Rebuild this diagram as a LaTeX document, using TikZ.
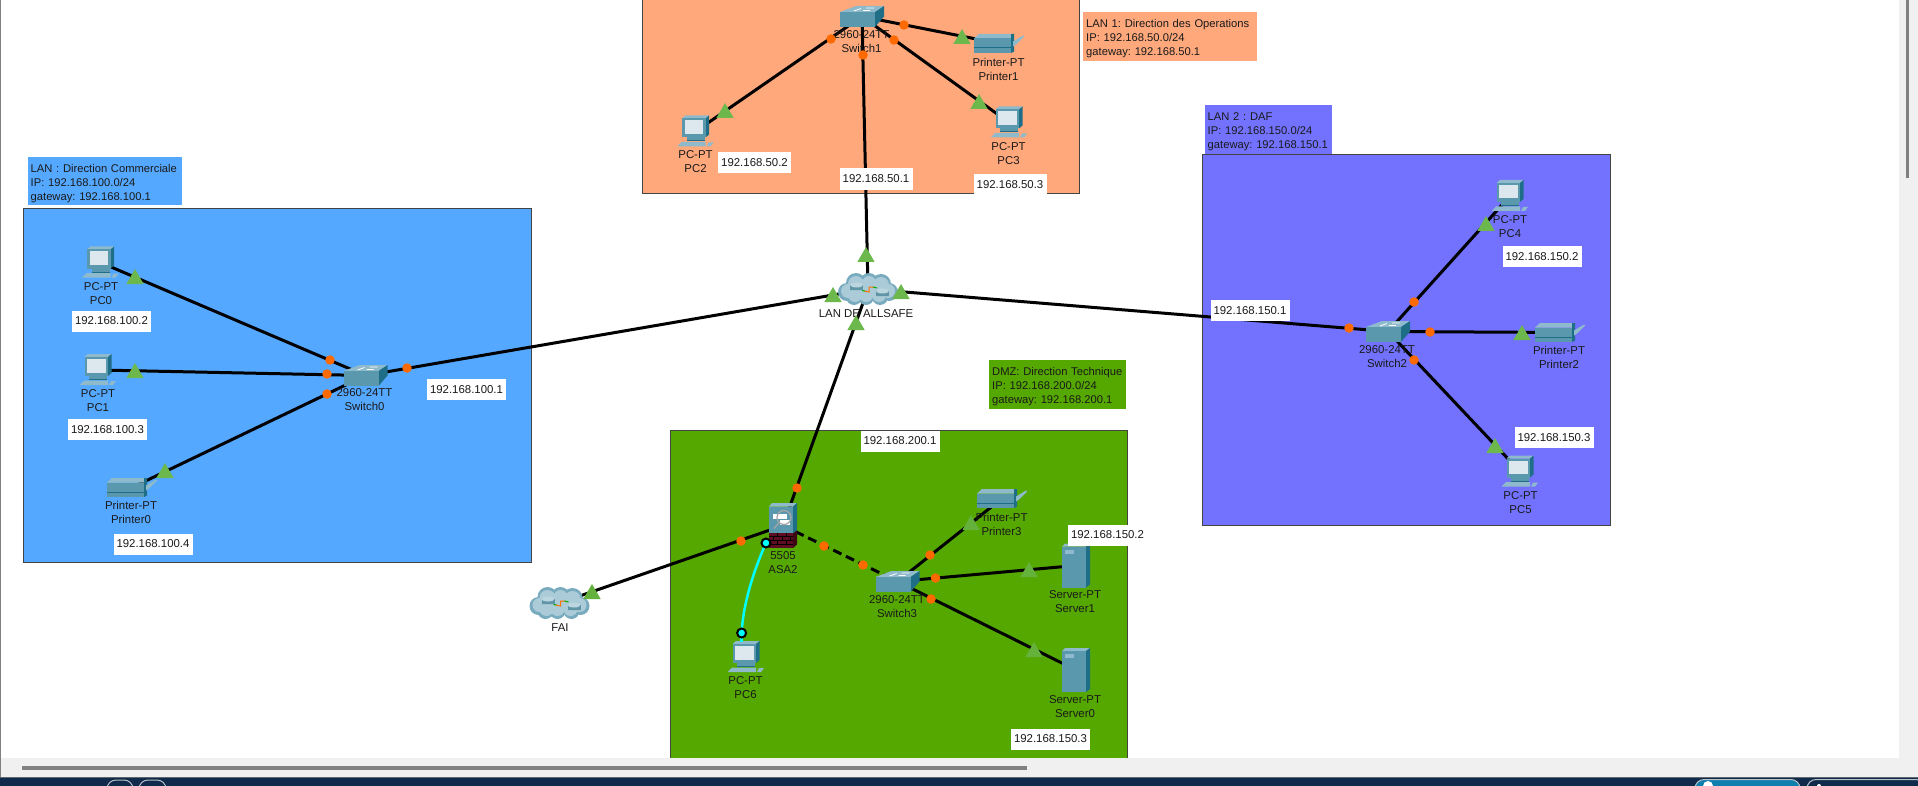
\documentclass[tikz,border=0pt]{standalone}
\usepackage{fontspec}
\setmainfont{Liberation Sans}
\frenchspacing
\usetikzlibrary{shapes.geometric}
\pgfdeclarelayer{zones}
\pgfdeclarelayer{links}
\pgfsetlayers{zones,links,main}
\definecolor{lanone}{HTML}{FFA87C}
\definecolor{lantwo}{HTML}{7272FF}
\definecolor{lanzero}{HTML}{55A8FF}
\definecolor{dmz}{HTML}{55A800}
\definecolor{zoneline}{HTML}{444444}
\definecolor{tealfront}{HTML}{5A98AE}
\definecolor{teallight}{HTML}{8FBACB}
\definecolor{tealdark}{HTML}{1F6E88}
\definecolor{screenc}{HTML}{DCE8EE}
\definecolor{brick}{HTML}{5E0E22}
\definecolor{brickdark}{HTML}{3C0814}
\definecolor{dotc}{HTML}{FF6A00}
\definecolor{tric}{HTML}{6DB84C}
\definecolor{tridim}{HTML}{64B23C}
\definecolor{cablecyan}{HTML}{00FFFF}
\definecolor{panelc}{HTML}{F0F0F0}
\definecolor{navy}{HTML}{0F2A4A}
\definecolor{pillblue}{HTML}{0F7FAE}
\definecolor{textc}{HTML}{1A1A1A}
\tikzset{
  zone/.style={draw=zoneline,line width=1pt},
  zonetag/.style={anchor=north west,inner xsep=3pt,inner ysep=0pt,align=left,font=\fontsize{11.2}{14}\selectfont,text=textc},
  devbox/.style={inner sep=0pt,minimum width=36pt,minimum height=30pt},
  devtext/.style={inner sep=0pt,align=center,font=\fontsize{11.4}{14}\selectfont,text=textc},
  iplabel/.style={fill=white,inner sep=0pt,minimum height=21pt,minimum width=79pt,font=\fontsize{11.4}{14}\selectfont,text=textc},
  link/.style={draw=black,line width=3pt},
  dashlink/.style={draw=black,line width=3pt,dash pattern=on 9pt off 5pt},
  cyanlink/.style={draw=cablecyan,line width=2.5pt},
  ring/.style={circle,draw=black,fill=cablecyan,line width=2pt,minimum size=9pt,inner sep=0pt},
  updot/.style={circle,fill=dotc,minimum size=9.5pt,inner sep=0pt},
  uptri/.style={regular polygon,regular polygon sides=3,fill=tric,minimum size=20pt,inner sep=0pt,yshift=-2pt},
  uptridim/.style={uptri,fill=tridim},
  pill/.style={draw=white!70!navy,line width=1pt,rounded corners=9pt},
  pcicon/.pic={
    \fill[teallight] (-13.5,-13)--(-10,-16)--(13.5,-16)--(10,-13)--cycle;
    \fill[tealdark] (10,-13)--(13.5,-16)--(13.5,3)--(10,6)--cycle;
    \fill[tealfront] (-13.5,-13) rectangle (10,6);
    \fill[screenc] (-11,-11) rectangle (7.5,2.5);
    \fill[tealfront] (-9,6) rectangle (9,9);
    \fill[tealdark] (-9,9) rectangle (9,10);
    \fill[teallight] (-18.5,15)--(-14,10.5)--(10,10.5)--(10,15)--cycle;
    \fill[teallight] (11,15)--(13,11)--(18,11)--(15,15)--cycle;
  },
  switchicon/.pic={
    \fill[teallight] (-22,-4.5)--(-6,-10.5)--(22,-10.5)--(13,-4.5)--cycle;
    \fill[tealdark] (13,-4.5)--(22,-10.5)--(22,0)--(13,10.5)--cycle;
    \fill[tealfront] (-22,-4.5) rectangle (13,10.5);
    \draw[white,line width=.8pt] (-8,-5.5)--(-1,-8) (1,-6)--(8,-6) (4,-8.5)--(12,-8.5);
  },
  printericon/.pic={
    \fill[teallight] (-25,-5)--(-20,-9.5)--(12,-9.5)--(12,-5)--cycle;
    \fill[tealfront] (-25,-5) rectangle (12,9.5);
    \fill[tealdark] (-25,4) rectangle (12,5);
    \fill[tealdark] (12,-9.5)--(15,-9.5)--(15,8)--(12,9.5)--cycle;
    \fill[teallight] (14,-2)--(24,-8)--(25,-7)--(17,1)--(14,3)--cycle;
  },
  servericon/.pic={
    \fill[teallight] (-14,-19)--(-11,-22)--(14,-22)--(10,-19)--cycle;
    \fill[tealdark] (10,-19)--(14,-22)--(14,19)--(10,22)--cycle;
    \fill[tealfront] (-14,-19) rectangle (10,22);
    \fill[teallight] (-11,-16) rectangle (-2,-12);
  },
  asaicon/.pic={
    \fill[teallight] (-14,-19)--(-11,-22.5)--(14,-22.5)--(10,-19)--cycle;
    \fill[tealdark] (10,-19)--(14,-22.5)--(14,5)--(10,8)--cycle;
    \fill[brickdark] (10,8)--(14,5)--(14,19)--(10,22.5)--cycle;
    \fill[tealfront] (-14,-19) rectangle (10,7);
    \fill[brick] (-14,7) rectangle (10,22.5);
    \draw[black,line width=.6pt] (-14,11)--(10,11) (-14,15)--(10,15) (-14,19)--(10,19) (-6,7)--(-6,11) (3,7)--(3,11) (-10,11)--(-10,15) (-1,11)--(-1,15) (7,11)--(7,15) (-6,15)--(-6,19) (3,15)--(3,19);
    \fill[white] (-10,-12) rectangle (4,-7);
    \fill[white] (-3,-6) rectangle (7,-1);
    \draw[gray!70!white,line width=1.3pt] (1,-8) circle[radius=7];
    \draw[gray!70!white,line width=1.3pt] (-4,-3)--(-9,3);
  },
  cloudicon/.pic={
    \fill[teallight!80!tealdark] (-21,3) circle[radius=9] (-12,-6) circle[radius=10] (1,-7) circle[radius=9] (13,-5) circle[radius=10] (21,3) circle[radius=9] (12,8) circle[radius=8] (-2,8) circle[radius=8] (-14,8) circle[radius=8] (0,0) circle[radius=12];
    \fill[teallight!75!white] (-20,2) circle[radius=7] (-12,-5) circle[radius=8] (1,-6) circle[radius=7] (13,-4) circle[radius=8] (20,2) circle[radius=7] (11,6) circle[radius=7] (-2,6) circle[radius=7] (-13,6) circle[radius=7] (0,0) circle[radius=10];
    \fill[tealfront!85!gray] (-18,-4) rectangle (-5,1);
    \fill[tealfront!85!gray] (-18,1) arc[start angle=180,end angle=360,x radius=6.5,y radius=2.5];
    \fill[teallight!60!white] (-11.5,-4) ellipse[x radius=6.5,y radius=2.5];
    \fill[tealfront!85!gray] (8,2) rectangle (21,7);
    \fill[tealfront!85!gray] (8,7) arc[start angle=180,end angle=360,x radius=6.5,y radius=2.5];
    \fill[teallight!60!white] (14.5,2) ellipse[x radius=6.5,y radius=2.5];
    \draw[orange!90!red,line width=1pt] (-4,2)--(1,3)--(1,-2)--(6,-2);
    \draw[green!70!black,line width=1pt] (-6,1.5)--(-3,2) (5,-2)--(9,-1);
  },
}
\newcommand{\dev}[5]{%
  \node[devbox] (#1) at (#3) {};
  \pic at (#1.center) {#2};
  \node[devtext] (#1txt) at (#5) {#4};
}
\hbadness=10000
\hfuzz=50pt
\begin{document}
\begin{tikzpicture}[x=1pt,y=-1pt]
\useasboundingbox (0,0) rectangle (1918,786);
\begin{pgfonlayer}{zones}
  \fill[white] (0,0) rectangle (1918,786);
  \draw[zone,fill=lanzero] (23,209) rectangle (531,562);
  \draw[zone,fill=lanone] (642,-3) rectangle (1079,194);
  \draw[zone,fill=lantwo] (1202,155) rectangle (1610,525);
  \draw[zone,fill=dmz] (670,430) rectangle (1127,770);
\end{pgfonlayer}
\node[zonetag,fill=lanzero,minimum width=154.5pt,minimum height=48pt,text width=148.5pt] (tag0) at (27.5,157) {\rule{0pt}{12pt}\mbox{LAN : Direction Commerciale}\\\mbox{IP: 192.168.100.0/24}\\\mbox{gateway: 192.168.100.1}};
\node[zonetag,fill=lanone,minimum width=174pt,minimum height=49pt,text width=168pt] (tag1) at (1083,12) {\rule{0pt}{12pt}\mbox{LAN 1: Direction des Operations}\\\mbox{IP: 192.168.50.0/24}\\\mbox{gateway: 192.168.50.1}};
\node[zonetag,fill=lantwo,minimum width=127.5pt,minimum height=49pt,text width=121.5pt] (tag2) at (1204.5,105) {\rule{0pt}{12pt}\mbox{LAN 2 : DAF}\\\mbox{IP: 192.168.150.0/24}\\\mbox{gateway: 192.168.150.1}};
\node[zonetag,fill=dmz,minimum width=137pt,minimum height=49pt,text width=131pt] (tag3) at (989,360) {\rule{0pt}{12pt}\mbox{DMZ: Direction Technique}\\\mbox{IP: 192.168.200.0/24}\\\mbox{gateway: 192.168.200.1}};
% devices
\dev{switch1}{switchicon}{862,16.5}{2960-24TT\\Switch1}{861.5,42}
\dev{printer1}{printericon}{999,43.5}{Printer-PT\\Printer1}{998.5,69}
\dev{pc2}{pcicon}{695.5,131.5}{PC-PT\\PC2}{695.5,162}
\dev{pc3}{pcicon}{1009,122.5}{PC-PT\\PC3}{1008.5,154}
\dev{cloudlan}{cloudicon}{868,289}{LAN DE ALLSAFE}{866,314}
\dev{pc0}{pcicon}{100.5,262.5}{PC-PT\\PC0}{101,294}
\dev{pc1}{pcicon}{98,370}{PC-PT\\PC1}{98,401}
\dev{printer0}{printericon}{132,487.5}{Printer-PT\\Printer0}{131,512}
\dev{switch0}{switchicon}{365.5,375.5}{2960-24TT\\Switch0}{364.5,400}
\dev{asa2}{asaicon}{783,525.5}{5505\\ASA2}{783,563}
\dev{fai}{cloudicon}{559.5,603}{FAI}{560,628}
\dev{pc6}{pcicon}{746,657}{PC-PT\\PC6}{745.5,688}
\dev{switch3}{switchicon}{897.5,581.5}{2960-24TT\\Switch3}{897,607}
\dev{printer3}{printericon}{1002,498.5}{Printer-PT\\Printer3}{1001.5,524}
\dev{server1}{servericon}{1076,565.5}{Server-PT\\Server1}{1075,602}
\dev{server0}{servericon}{1076,670}{Server-PT\\Server0}{1075,707}
\dev{pc4}{pcicon}{1510,196}{PC-PT\\PC4}{1510,227}
\dev{switch2}{switchicon}{1388,331.5}{2960-24TT\\Switch2}{1387,357}
\dev{printer2}{printericon}{1560,332.5}{Printer-PT\\Printer2}{1559,357}
\dev{pc5}{pcicon}{1520,471.5}{PC-PT\\PC5}{1520.5,503}
% cables, below the devices
\begin{pgfonlayer}{links}
  \draw[link] (switch1.center)--(printer1.center);
  \draw[link] (switch1.center)--(pc2.center);
  \draw[link] (switch1.center)--(pc3.center);
  \draw[link] (switch1.center)--(cloudlan.center);
  \draw[link] (cloudlan.center)--(switch0.center);
  \draw[link] (cloudlan.center)--(switch2.center);
  \draw[link] (cloudlan.center)--(asa2.center);
  \draw[link] (switch0.center)--(pc0.center);
  \draw[link] (switch0.center)--(pc1.center);
  \draw[link] (switch0.center)--(printer0.center);
  \draw[link] (asa2.center)--(fai.center);
  \draw[dashlink] (asa2.center)--(switch3.center);
  \draw[link] (switch3.center)--(printer3.center);
  \draw[link] (switch3.center)--(server1.center);
  \draw[link] (switch3.center)--(server0.center);
  \draw[link] (switch2.center)--(pc4.center);
  \draw[link] (switch2.center)--(printer2.center);
  \draw[link] (switch2.center)--(pc5.center);
\end{pgfonlayer}
\coordinate (ringasa) at (766,543);
\coordinate (ringpc) at (741.6,633);
\draw[cyanlink] (ringasa) .. controls (753,572) and (743,605) .. (ringpc);
\draw[cyanlink] (ringpc)--(pc6.north -| ringpc);
\node[ring] (ringa) at (ringasa) {};
\node[ring] (ringb) at (ringpc) {};
% link-state markers
\node[updot] (d1) at (904,25) {};
\node[updot] (d2) at (831,39) {};
\node[updot] (d3) at (894,40) {};
\node[updot] (d4) at (863,55) {};
\node[updot] (d5) at (407,368) {};
\node[updot] (d6) at (1349,328) {};
\node[updot] (d7) at (797,488) {};
\node[updot] (d8) at (330,360) {};
\node[updot] (d9) at (327,374) {};
\node[updot] (d10) at (327,394) {};
\node[updot] (d11) at (741,541) {};
\node[updot] (d12) at (824,546) {};
\node[updot] (d13) at (863,565) {};
\node[updot] (d14) at (930,555) {};
\node[updot] (d15) at (935.5,578) {};
\node[updot] (d16) at (931,599) {};
\node[updot] (d17) at (1414,302) {};
\node[updot] (d18) at (1430,332) {};
\node[updot] (d19) at (1414,360) {};
\node[uptri] (t1) at (962,37) {};
\node[uptri] (t2) at (725,111) {};
\node[uptri] (t3) at (979,102) {};
\node[uptri] (t4) at (866,255) {};
\node[uptri] (t5) at (833,295) {};
\node[uptri] (t6) at (901,292) {};
\node[uptri] (t7) at (856,323) {};
\node[uptri] (t8) at (135,277) {};
\node[uptri] (t9) at (135,371) {};
\node[uptri] (t10) at (165,471) {};
\node[uptridim] (t11) at (592,592) {};
\node[uptridim] (t12) at (971,523) {};
\node[uptridim] (t13) at (1029,570) {};
\node[uptridim] (t14) at (1034,650) {};
\node[uptri] (t15) at (1486,224) {};
\node[uptri] (t16) at (1522,333) {};
\node[uptri] (t17) at (1495,446) {};
% address labels
\node[iplabel,minimum width=73pt] (ip1) at (754.5,162.5) {192.168.50.2};
\node[iplabel,minimum width=73pt,minimum height=22pt] (ip2) at (876,179) {192.168.50.1};
\node[iplabel,minimum width=73pt] (ip3) at (1010,184.5) {192.168.50.3};
\node[iplabel] (ip4) at (111.5,321) {192.168.100.2};
\node[iplabel] (ip5) at (107.5,429.5) {192.168.100.3};
\node[iplabel] (ip6) at (153,544) {192.168.100.4};
\node[iplabel] (ip7) at (466.5,389.5) {192.168.100.1};
\node[iplabel] (ip8) at (1250,310.5) {192.168.150.1};
\node[iplabel] (ip9) at (1542,256.5) {192.168.150.2};
\node[iplabel] (ip10) at (1554,437.5) {192.168.150.3};
\node[iplabel] (ip11) at (900,441) {192.168.200.1};
\node[iplabel] (ip12) at (1107.5,535) {192.168.150.2};
\node[iplabel] (ip13) at (1050.5,739) {192.168.150.3};
% window furniture
\fill[panelc] (0,758) rectangle (1918,778);
\fill[panelc] (1899,0) rectangle (1918,758);
\fill[gray] (22,766) rectangle (1027,769.5);
\fill[gray] (1906,0) rectangle (1909,178);
\fill[gray] (0,0) rectangle (1,778);
\fill[navy] (0,778) rectangle (1918,786);
\fill[gray!70!navy] (0,777) rectangle (1918,778);
\begin{scope}
  \clip (0,778) rectangle (1918,786);
  \draw[pill] (107,780) rectangle (133,800);
  \draw[pill] (139,780) rectangle (166,800);
  \draw[pill,fill=pillblue] (1695,779.5) rectangle (1800,800);
  \draw[pill] (1807,779.5) rectangle (1925,800);
  \fill[white] (1708,786) circle[radius=5];
  \fill[white] (1819,786) circle[radius=2];
\end{scope}
\end{tikzpicture}
\end{document}
